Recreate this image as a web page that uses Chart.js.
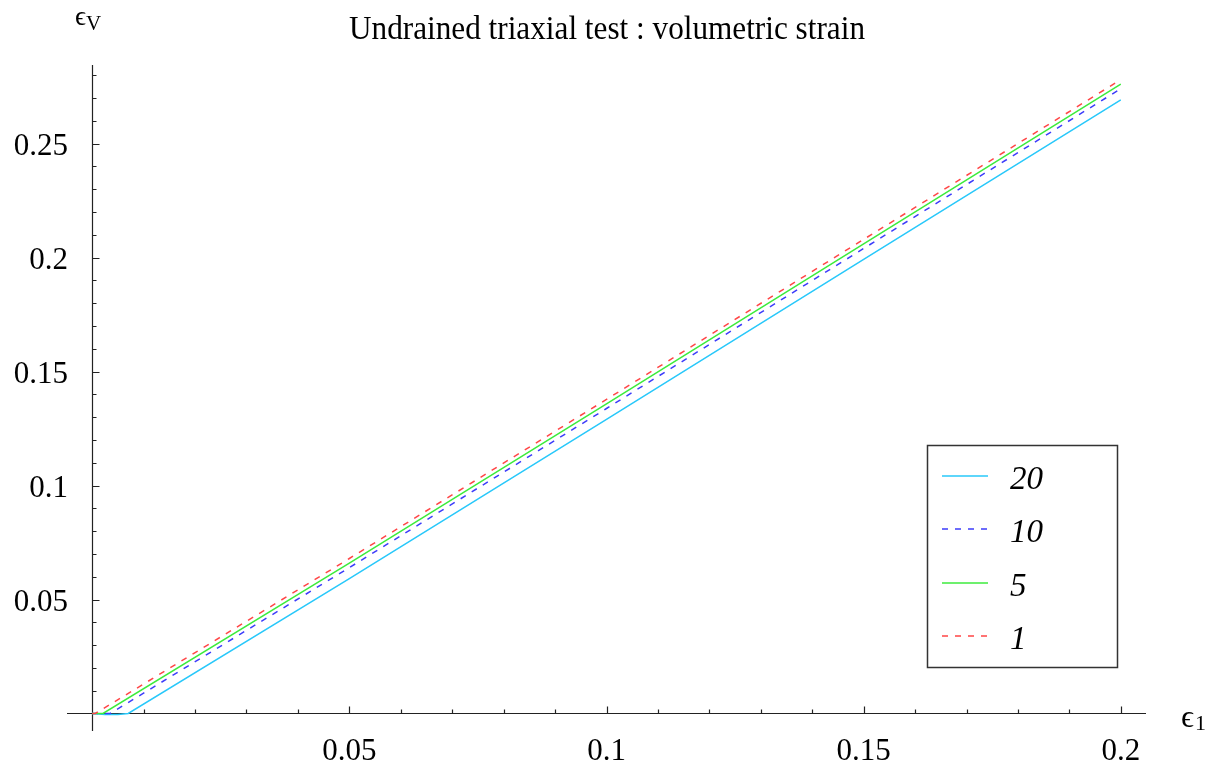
<!DOCTYPE html>
<html>
<head>
<meta charset="utf-8">
<script src="https://cdn.jsdelivr.net/npm/chart.js@4.4.1/dist/chart.umd.min.js"></script>
<style>
  html, body { margin: 0; padding: 0; background: #fff; }
  canvas { display: block; }
</style>
</head>
<body>
<canvas id="chart" width="1217" height="771"></canvas>
<script>
// valores
const seriesNames = ['20', '10', '5', '1'];

const eps1_20 = [0, 0.0025, 0.005, 0.007, 0.05, 0.1, 0.15, 0.2];
const epsV_20 = [0, -0.0004, -0.0004, 0, 0.0592, 0.1290, 0.1992, 0.2692];

const eps1_10 = [0, 0.0035, 0.05, 0.1, 0.15, 0.2];
const epsV_10 = [0, 0, 0.0640, 0.1338, 0.2040, 0.2741];

const eps1_5 = [0, 0.0021, 0.05, 0.1, 0.15, 0.2];
const epsV_5 = [0, 0, 0.0660, 0.1358, 0.2060, 0.2761];

const eps1_1 = [0, 0.0006, 0.05, 0.1, 0.15, 0.2];
const epsV_1 = [0, 0, 0.0680, 0.1378, 0.2080, 0.2781];

const xTicks = [0.05, 0.1, 0.15, 0.2];
const xTickLabels = ['0.05', '0.1', '0.15', '0.2'];
const yTicks = [0.05, 0.1, 0.15, 0.2, 0.25];
const yTickLabels = ['0.05', '0.1', '0.15', '0.2', '0.25'];

const titleText = 'Undrained triaxial test : volumetric strain';

function toPoints(xs, ys) {
    return xs.map((x, i) => ({ x: x, y: ys[i] }));
}

const serif = "'Liberation Serif', 'DejaVu Serif', serif";

const axesPlugin = {
    id: 'axesPlugin',
    beforeDatasetsDraw(chart) {
        const ctx = chart.ctx;
        const area = chart.chartArea;
        const xs = chart.scales.x;
        const ys = chart.scales.y;
        const x0 = Math.round(xs.getPixelForValue(0)) + 0.5;
        const y0 = Math.round(ys.getPixelForValue(0)) + 0.5;
        ctx.save();
        ctx.strokeStyle = '#222';
        ctx.lineWidth = 1.2;
        ctx.beginPath();
        ctx.moveTo(area.left, y0);
        ctx.lineTo(area.right, y0);
        ctx.moveTo(x0, area.top);
        ctx.lineTo(x0, area.bottom);
        // ticks menores a cada 0.01
        for (let i = 1; i <= 20; i++) {
            const v = i / 100;
            const px = Math.round(xs.getPixelForValue(v)) + 0.5;
            const len = (i % 5 === 0) ? 7 : 4;
            ctx.moveTo(px, y0);
            ctx.lineTo(px, y0 - len);
        }
        for (let i = 1; i <= 28; i++) {
            const v = i / 100;
            const py = Math.round(ys.getPixelForValue(v)) + 0.5;
            const len = (i % 5 === 0) ? 7 : 4;
            ctx.moveTo(x0, py);
            ctx.lineTo(x0 + len, py);
        }
        ctx.stroke();

        ctx.fillStyle = '#000';
        ctx.font = '31px ' + serif;
        ctx.textAlign = 'center';
        ctx.textBaseline = 'alphabetic';
        xTicks.forEach((v, i) => {
            ctx.fillText(xTickLabels[i], xs.getPixelForValue(v), 760);
        });
        ctx.textAlign = 'right';
        yTicks.forEach((v, i) => {
            ctx.fillText(yTickLabels[i], 68, ys.getPixelForValue(v) + 11);
        });
        ctx.restore();
    },
    afterDraw(chart) {
        const ctx = chart.ctx;
        ctx.save();
        ctx.fillStyle = '#000';
        ctx.textBaseline = 'alphabetic';

        // titulo
        ctx.font = '33px ' + serif;
        ctx.textAlign = 'center';
        ctx.fillText(titleText, 607, 39, 516);

        // rotulos dos eixos
        ctx.textAlign = 'left';
        ctx.font = '27px ' + serif;
        ctx.fillText('\u03F5', 75, 25);
        ctx.font = '21px ' + serif;
        ctx.fillText('V', 86, 30);
        ctx.font = '32px ' + serif;
        ctx.fillText('\u03F5', 1181, 727);
        ctx.font = '22px ' + serif;
        ctx.fillText('1', 1195, 730);

        // legenda
        ctx.strokeStyle = '#333';
        ctx.lineWidth = 1.5;
        ctx.strokeRect(927.5, 445.5, 190, 222);
        const rows = [476, 529, 583, 636];
        chart.data.datasets.forEach((ds, i) => {
            const y = rows[i];
            ctx.beginPath();
            ctx.strokeStyle = ds.borderColor;
            ctx.lineWidth = ds.borderWidth;
            ctx.setLineDash(ds.borderDash || []);
            ctx.moveTo(942, y);
            ctx.lineTo(988, y);
            ctx.stroke();
            ctx.setLineDash([]);
            ctx.font = 'italic 33px ' + serif;
            ctx.fillStyle = '#000';
            ctx.fillText(ds.label, 1010, y + 13);
        });
        ctx.restore();
    }
};

const ctx = document.getElementById('chart').getContext('2d');
const chart = new Chart(ctx, {
    type: 'scatter',
    data: {
        datasets: [
            {
                label: seriesNames[0],
                data: toPoints(eps1_20, epsV_20),
                borderColor: 'rgb(40, 200, 250)',
                borderWidth: 1.5,
                order: 4
            },
            {
                label: seriesNames[1],
                data: toPoints(eps1_10, epsV_10),
                borderColor: 'rgb(60, 60, 250)',
                borderWidth: 1.5,
                borderDash: [6, 7],
                order: 3
            },
            {
                label: seriesNames[2],
                data: toPoints(eps1_5, epsV_5),
                borderColor: 'rgb(60, 235, 60)',
                borderWidth: 1.5,
                order: 2
            },
            {
                label: seriesNames[3],
                data: toPoints(eps1_1, epsV_1),
                borderColor: 'rgb(255, 70, 70)',
                borderWidth: 1.5,
                borderDash: [6, 7],
                order: 1
            }
        ]
    },
    options: {
        responsive: false,
        animation: false,
        devicePixelRatio: 1,
        showLine: true,
        elements: {
            point: { radius: 0, hoverRadius: 0 },
            line: { tension: 0, fill: false }
        },
        layout: {
            padding: { left: 67, right: 71, top: 65, bottom: 40 }
        },
        plugins: {
            legend: { display: false },
            title: { display: false },
            tooltip: { enabled: false }
        },
        scales: {
            x: { type: 'linear', display: false, min: -0.0049, max: 0.2049 },
            y: { type: 'linear', display: false, min: -0.00768, max: 0.2845 }
        }
    },
    plugins: [axesPlugin]
});
</script>
</body>
</html>
